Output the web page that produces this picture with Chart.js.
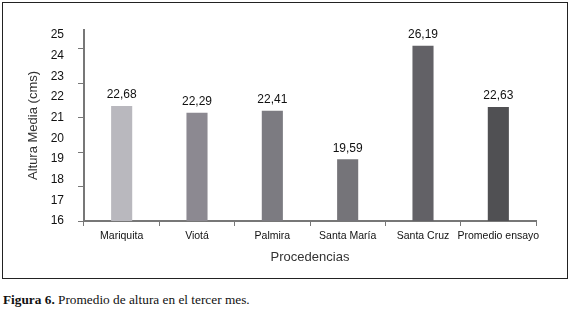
<!DOCTYPE html>
<html>
<head>
<meta charset="utf-8">
<script src="https://cdn.jsdelivr.net/npm/chart.js@4/dist/chart.umd.min.js"></script>
<style>
    body { margin: 0; background: #fff; }
    #marco { position: absolute; left: 2px; top: 2px; width: 564px; height: 275px; border: 1px solid #222; }
    #grafico { position: absolute; left: 0; top: 0; }
    #pie { position: absolute; left: 3px; top: 292px; font: 13.3px "Liberation Serif", serif; color: #111; }
</style>
</head>
<body>
<div id="marco"></div>
<canvas id="grafico" width="570" height="280"></canvas>
<div id="pie"><b>Figura 6.</b> Promedio de altura en el tercer mes.</div>
<script>
// datos
let procedencias = ['Mariquita', 'Viotá', 'Palmira', 'Santa María', 'Santa Cruz', 'Promedio ensayo'];
let altura = [22.68, 22.29, 22.41, 19.59, 26.19, 22.63];
let colores = ['#b9b8be', '#8c8991', '#7c7b81', '#757479', '#626166', '#505053'];
// rotulos del eje tal como aparecen (no coinciden con la escala de las barras)
let rotulosEje = [16, 17, 18, 19, 20, 21, 22, 23, 24, 25];

let fuente = "'Liberation Sans', Arial, sans-serif";

let etiquetas = {
    id: 'etiquetas',
    afterDatasetsDraw(chart) {
        let ctx = chart.ctx;
        let meta = chart.getDatasetMeta(0);
        ctx.save();
        ctx.font = '12px ' + fuente;
        ctx.fillStyle = '#111';
        ctx.textAlign = 'center';
        ctx.textBaseline = 'bottom';
        meta.data.forEach(function (bar, i) {
            ctx.fillText(altura[i].toFixed(2).replace('.', ','), bar.x, bar.y - 5);
        });
        ctx.restore();
    }
};

let grafico = document.getElementById('grafico').getContext('2d');
new Chart(grafico, {
    type: 'bar',
    data: {
        labels: procedencias,
        datasets: [{
            data: altura,
            backgroundColor: colores,
            barPercentage: 0.28,
            categoryPercentage: 1,
            yAxisID: 'y'
        }]
    },
    options: {
        responsive: false,
        animation: false,
        layout: { padding: { left: 0, right: 34, top: 30, bottom: 0 } },
        plugins: { legend: { display: false }, tooltip: { enabled: false } },
        scales: {
            x: {
                grid: { offset: true, drawOnChartArea: false, tickLength: 5, color: '#777' },
                border: { color: '#777', width: 2 },
                ticks: {
                    font: { size: 10.5, family: fuente }, color: '#111', padding: 4,
                    maxRotation: 0, minRotation: 0, autoSkip: false
                },
                title: {
                    display: true, text: 'Procedencias', color: '#333',
                    font: { size: 13, family: fuente },
                    padding: { top: 4, bottom: 15 }
                },
                afterFit: function (scale) { scale.height = 59; }
            },
            y: {
                position: 'left',
                weight: 0,
                min: 16,
                max: 27.1,
                ticks: { display: false, stepSize: 2, includeBounds: false },
                grid: { drawOnChartArea: false, tickLength: 6, color: '#777' },
                border: { color: '#777', width: 2 }
            },
            yRotulos: {
                position: 'left',
                weight: 1,
                min: rotulosEje[0],
                max: 25.24,
                afterBuildTicks: function (scale) {
                    scale.ticks = rotulosEje.map(function (v) { return { value: v }; });
                },
                ticks: { font: { size: 12, family: fuente }, color: '#111', padding: 6, autoSkip: false },
                grid: { display: false },
                border: { display: false },
                title: {
                    display: true, text: 'Altura Media (cms)', color: '#333',
                    font: { size: 13, family: fuente },
                    padding: { top: 26, bottom: 0 }
                },
                afterFit: function (scale) { scale.width = 78; }
            }
        }
    },
    plugins: [etiquetas]
});
</script>
</body>
</html>
